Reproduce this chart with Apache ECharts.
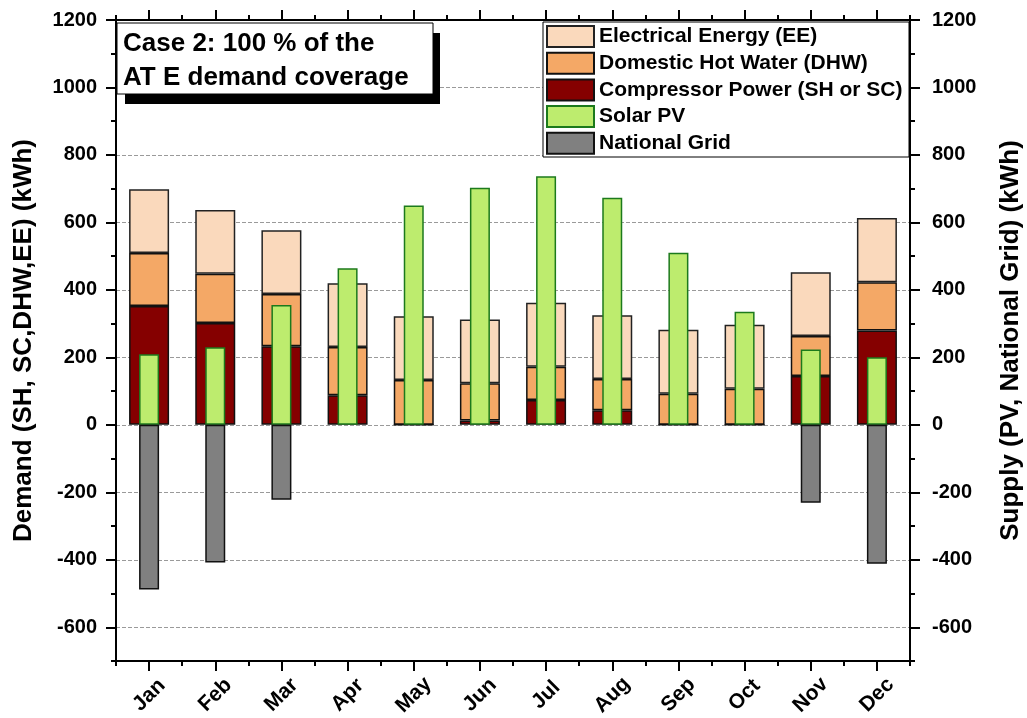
<!DOCTYPE html>
<html>
<head>
<meta charset="utf-8">
<title>Case 2: monthly demand and supply</title>
<script src="https://cdn.jsdelivr.net/npm/echarts@6/dist/echarts.min.js"></script>
<style>
  html, body { margin: 0; padding: 0; background: #fff; }
  #chart { width: 1027px; height: 718px; }
</style>
</head>
<body>
<div id="chart"></div>
<script>
// Monthly energy balance (kWh)
const months = ['Jan', 'Feb', 'Mar', 'Apr', 'May', 'Jun', 'Jul', 'Aug', 'Sep', 'Oct', 'Nov', 'Dec'];

// Demand side, stacked from the bottom
const compressorPower = [352, 302, 233, 88, 0, 13, 74, 43, 0, 0, 145, 280];
const domesticHotWater = [157, 146, 155, 143, 133, 110, 98, 93, 92, 107, 118, 143];
const electricalEnergy = [189, 189, 189, 189, 189, 189, 190, 189, 190, 190, 189, 190];

// Supply side
const solarPV = [209, 230, 355, 464, 650, 703, 737, 673, 510, 335, 223, 200];
const nationalGrid = [-488, -408, -222, null, null, null, null, null, null, null, -231, -412];

// Shared value range of both y axes
const yMin = -700;
const yMax = 1200;

const FONT = '"Liberation Sans", Arial, Helvetica, sans-serif';
const BLACK = '#000';

const chart = echarts.init(document.getElementById('chart'), null, { renderer: 'canvas' });

const plainNumber = function (v) { return String(v); };

const catAxisBase = {
  type: 'category',
  data: months,
  boundaryGap: true,
  axisLine: { show: true, onZero: false, lineStyle: { color: BLACK, width: 2 } },
  splitLine: { show: false }
};

const valAxisBase = {
  type: 'value',
  min: yMin,
  max: yMax,
  axisLine: { show: true, lineStyle: { color: BLACK, width: 2 } },
  nameMoveOverlap: false,
  nameTextStyle: { fontFamily: FONT, fontWeight: 'bold', fontSize: 26, color: BLACK }
};

const option = {
  animation: false,
  backgroundColor: '#fff',
  textStyle: { fontFamily: FONT },
  grid: { left: 116, right: 117, top: 20, bottom: 57, containLabel: false, outerBoundsMode: 'none' },
  legend: {
    orient: 'vertical',
    left: 546,
    top: 25,
    padding: 0,
    itemWidth: 47,
    itemHeight: 21,
    itemGap: 3.7,
    selectedMode: false,
    icon: 'rect',
    z: 6,
    data: ['Electrical Energy (EE)', 'Domestic Hot Water (DHW)', 'Compressor Power (SH or SC)', 'Solar PV', 'National Grid'],
    textStyle: { fontFamily: FONT, fontWeight: 'bold', fontSize: 21, color: BLACK }
  },
  xAxis: [
    // bottom: labels and ticks at month centres
    Object.assign({}, catAxisBase, {
      position: 'bottom',
      axisTick: { show: true, alignWithLabel: true, length: 10, lineStyle: { color: BLACK, width: 2 } },
      axisLabel: {
        show: true, interval: 0, rotate: 45, align: 'center', verticalAlign: 'middle', margin: 34,
        fontFamily: FONT, fontWeight: 'bold', fontSize: 21, color: BLACK
      }
    }),
    // top frame: ticks at month centres
    Object.assign({}, catAxisBase, {
      position: 'top',
      axisTick: { show: true, alignWithLabel: true, length: 10, lineStyle: { color: BLACK, width: 2 } },
      axisLabel: { show: false }
    }),
    // bottom: short ticks between months (supply bars use this axis)
    Object.assign({}, catAxisBase, {
      position: 'bottom',
      axisLine: { show: false, onZero: false },
      axisTick: { show: true, alignWithLabel: false, length: 5, lineStyle: { color: BLACK, width: 2 } },
      axisLabel: { show: false }
    }),
    // top: short ticks between months
    Object.assign({}, catAxisBase, {
      position: 'top',
      axisLine: { show: false, onZero: false },
      axisTick: { show: true, alignWithLabel: false, length: 5, lineStyle: { color: BLACK, width: 2 } },
      axisLabel: { show: false }
    })
  ],
  yAxis: [
    Object.assign({}, valAxisBase, {
      position: 'left',
      splitNumber: 10,
      name: 'Demand (SH, SC,DHW,EE) (kWh)',
      nameLocation: 'middle',
      nameGap: 79,
      axisTick: { show: true, length: 10, lineStyle: { color: BLACK, width: 2 } },
      axisLabel: {
        show: true, showMinLabel: false, margin: 19, formatter: plainNumber,
        fontFamily: FONT, fontWeight: 'bold', fontSize: 20, color: BLACK
      },
      splitLine: { show: true, lineStyle: { color: '#9a9a9a', width: 1, type: [4, 2] } }
    }),
    Object.assign({}, valAxisBase, {
      position: 'right',
      splitNumber: 10,
      name: 'Supply (PV, National Grid) (kWh)',
      nameLocation: 'middle',
      nameGap: 88,
      nameRotate: 90,
      axisTick: { show: true, length: 10, lineStyle: { color: BLACK, width: 2 } },
      axisLabel: {
        show: true, showMinLabel: false, margin: 22, formatter: plainNumber,
        fontFamily: FONT, fontWeight: 'bold', fontSize: 20, color: BLACK
      },
      splitLine: { show: false }
    }),
    Object.assign({}, valAxisBase, {
      position: 'left',
      interval: 100,
      axisLine: { show: false },
      axisTick: { show: true, length: 5, lineStyle: { color: BLACK, width: 2 } },
      axisLabel: { show: false },
      splitLine: { show: false }
    }),
    Object.assign({}, valAxisBase, {
      position: 'right',
      interval: 100,
      axisLine: { show: false },
      axisTick: { show: true, length: 5, lineStyle: { color: BLACK, width: 2 } },
      axisLabel: { show: false },
      splitLine: { show: false }
    })
  ],
  series: [
    {
      name: 'Compressor Power (SH or SC)', type: 'bar', stack: 'demand',
      xAxisIndex: 0, yAxisIndex: 0, barWidth: 40,
      itemStyle: { color: '#850000', borderColor: '#111', borderWidth: 1.5 },
      data: compressorPower
    },
    {
      name: 'Domestic Hot Water (DHW)', type: 'bar', stack: 'demand',
      xAxisIndex: 0, yAxisIndex: 0, barWidth: 40,
      itemStyle: { color: '#f4a866', borderColor: '#111', borderWidth: 1.5 },
      data: domesticHotWater
    },
    {
      name: 'Electrical Energy (EE)', type: 'bar', stack: 'demand',
      xAxisIndex: 0, yAxisIndex: 0, barWidth: 40,
      itemStyle: { color: '#fad9bc', borderColor: '#222', borderWidth: 1.5 },
      data: electricalEnergy
    },
    {
      name: 'Solar PV', type: 'bar', stack: 'supply',
      xAxisIndex: 2, yAxisIndex: 1, barWidth: 20,
      itemStyle: { color: '#bdec6e', borderColor: '#1c7a1c', borderWidth: 1.5 },
      data: solarPV
    },
    {
      name: 'National Grid', type: 'bar', stack: 'supply',
      xAxisIndex: 2, yAxisIndex: 1, barWidth: 20,
      itemStyle: { color: '#808080', borderColor: '#111', borderWidth: 1.5 },
      data: nationalGrid
    }
  ],
  graphic: [
    // legend frame
    {
      type: 'rect', z: 5,
      shape: { x: 543, y: 22, width: 366, height: 135 },
      style: { fill: '#fff', stroke: BLACK, lineWidth: 1 }
    },
    // case caption with solid drop shadow
    {
      type: 'rect', z: 7,
      shape: { x: 125, y: 33, width: 315, height: 71 },
      style: { fill: BLACK }
    },
    {
      type: 'rect', z: 8,
      shape: { x: 117, y: 23, width: 316, height: 71 },
      style: { fill: '#fff', stroke: BLACK, lineWidth: 1 }
    },
    {
      type: 'text', z: 9,
      x: 123, y: 26,
      style: {
        text: 'Case 2: 100 % of the\nAT E demand coverage',
        font: 'bold 26px ' + FONT,
        lineHeight: 34.7,
        fill: BLACK,
        textAlign: 'left',
        textVerticalAlign: 'top'
      }
    }
  ]
};

chart.setOption(option);
</script>
</body>
</html>
